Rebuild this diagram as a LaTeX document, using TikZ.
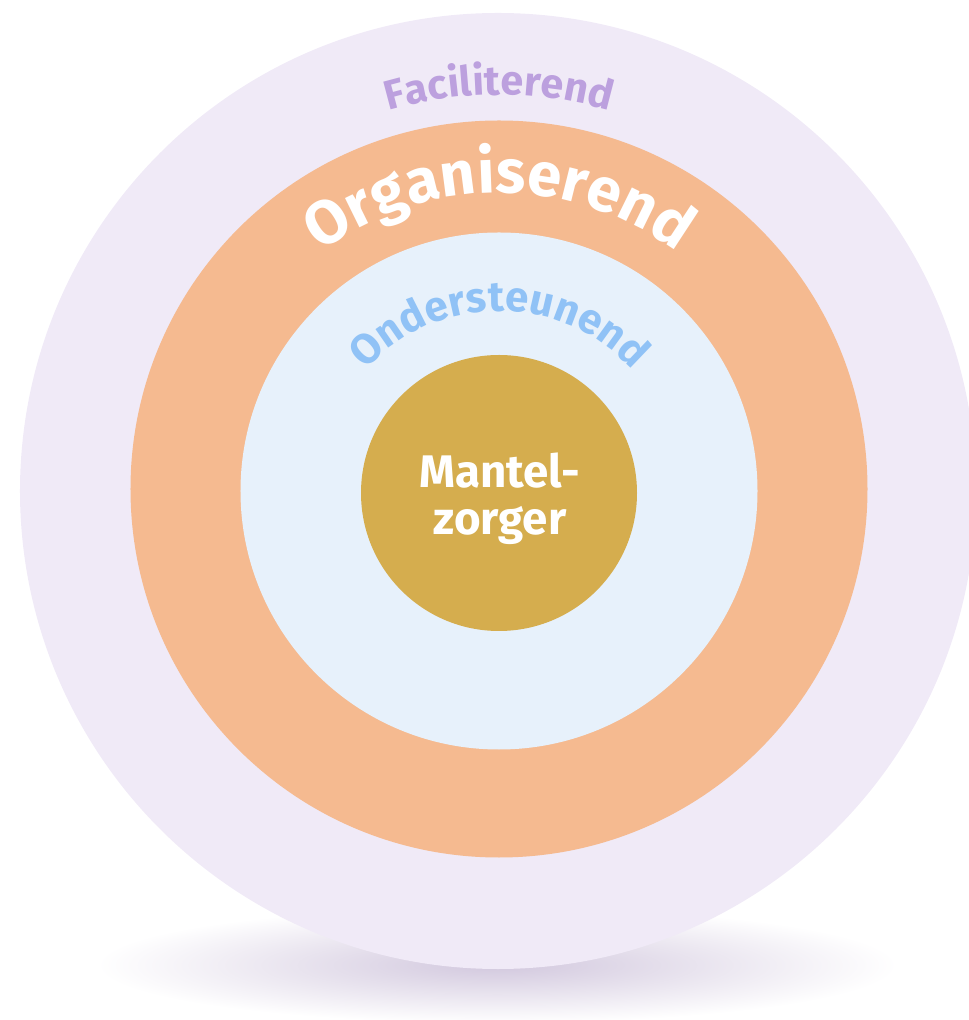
\documentclass[tikz,border=0pt]{standalone}
\usepackage{fontspec}
\setmainfont{Fira Sans}
\usepackage{tikz}
\usetikzlibrary{decorations.text}

\definecolor{facilbg}{HTML}{F0EAF7}
\definecolor{organbg}{HTML}{F5BA90}
\definecolor{onderbg}{HTML}{E7F1FB}
\definecolor{mantelbg}{HTML}{D5AD4E}
\definecolor{faciltxt}{HTML}{BCA0DE}
\definecolor{ondertxt}{HTML}{90C2F6}
\definecolor{shadowc}{HTML}{D2C8DE}

\tikzset{
  ringtext/.style={decorate, decoration={text along path, text align=center, text={#1}}}
}

\begin{document}
\begin{tikzpicture}[x=0.02cm, y=0.02cm]
\useasboundingbox (-499,-529) rectangle (470,491);
% shadow
\shade[inner color=shadowc, outer color=white] (-2,-474) ellipse [x radius=400, y radius=58];
% faciliterend
\fill[facilbg] (-1,0) circle (478);
% organiserend
\fill[organbg] (0,2) circle (368.5);
% ondersteunend
\fill[onderbg] (0,0) circle (258.5);
% mantelzorger
\fill[mantelbg] (0,-2) circle (138);
% labels
\path[ringtext={|\fontsize{23.5}{28}\selectfont\bfseries\color{faciltxt}|Faciliterend}]
  (170:396) arc [start angle=170, end angle=10, radius=396];
\path[ringtext={|\fontsize{35}{42}\selectfont\bfseries\color{white}|Organiserend}]
  (170:298) arc [start angle=170, end angle=10, radius=298];
\path[ringtext={|\fontsize{24}{28}\selectfont\bfseries\color{ondertxt}|Ondersteunend}]
  (170:180) arc [start angle=170, end angle=10, radius=180];
\node[align=center, text=white, font=\fontsize{26}{27}\selectfont\bfseries] (mz) at (1,-8) {Mantel-\\zorger};
\end{tikzpicture}
\end{document}
